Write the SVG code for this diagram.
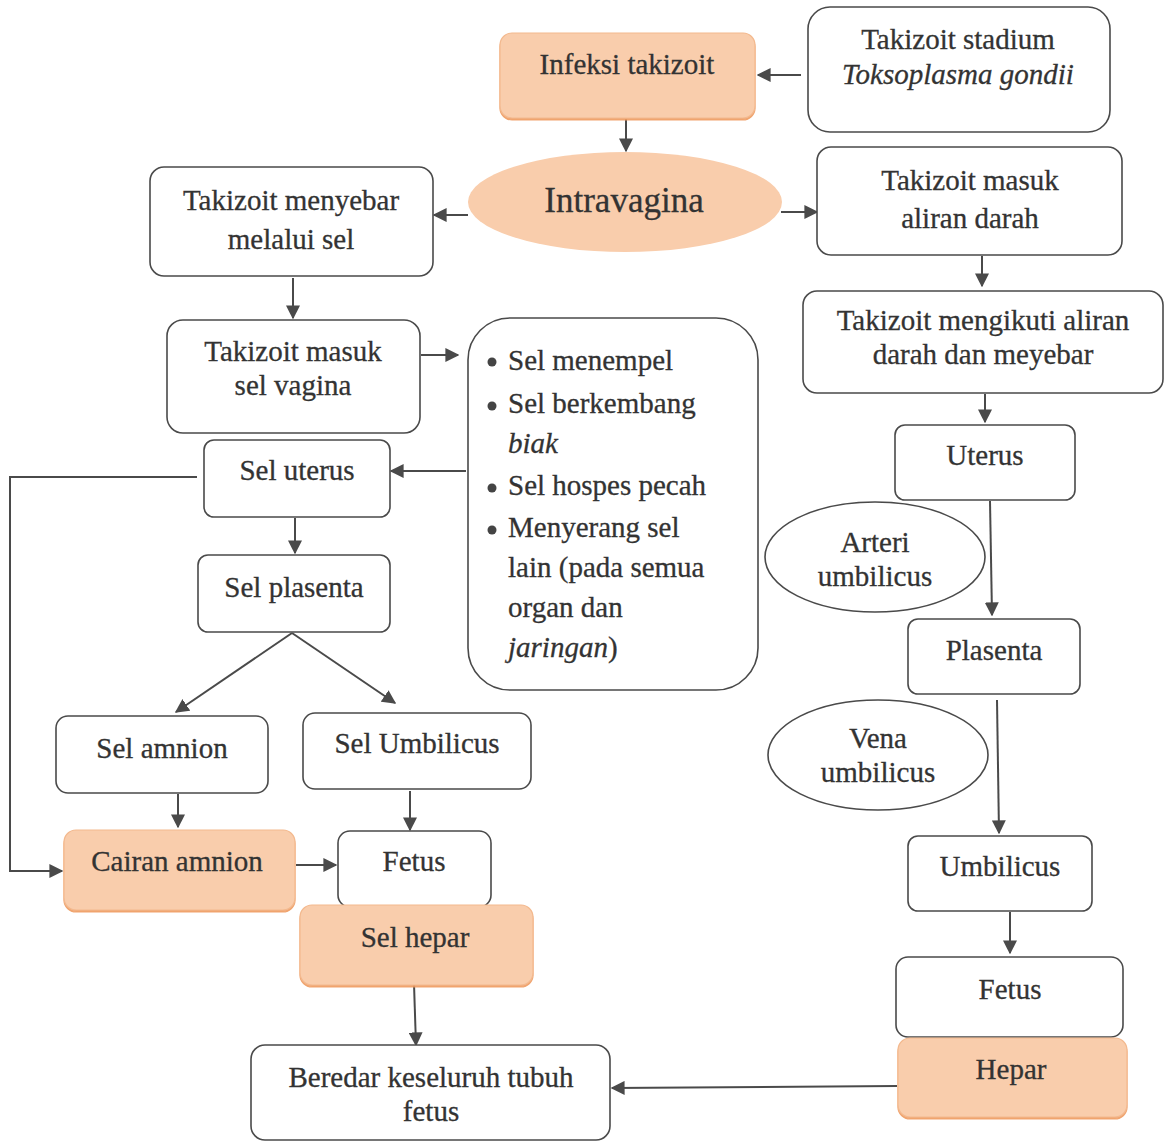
<svg xmlns="http://www.w3.org/2000/svg" width="1167" height="1144" viewBox="0 0 1167 1144">
<defs>
<style>
.box{fill:#fff;stroke:#4a4a4a;stroke-width:1.6}
.or{fill:#f9cdac;stroke:#f3b98e;stroke-width:1.2}
.t{font-family:"Liberation Serif","Times New Roman",serif;font-size:29px;fill:#333;stroke:#333;stroke-width:0.3;text-anchor:middle}
.tl{font-family:"Liberation Serif","Times New Roman",serif;font-size:29px;fill:#333;stroke:#333;stroke-width:0.3}
.c{fill:none;stroke:#4a4a4a;stroke-width:2}
</style>
<marker id="a" viewBox="0 0 10 10" refX="9" refY="5" markerWidth="14" markerHeight="14" markerUnits="userSpaceOnUse" orient="auto"><path d="M0,0 L10,5 L0,10 z" fill="#4a4a4a"/></marker>
<filter id="sh" x="-5%" y="-5%" width="110%" height="115%"><feDropShadow dx="0" dy="2" stdDeviation="0.5" flood-color="#ee9a5e" flood-opacity="0.9"/></filter>
</defs>
<rect width="1167" height="1144" fill="#fff"/>

<g id="connectors">
<path class="c" d="M801,75 L758,75" marker-end="url(#a)"/>
<path class="c" d="M626,119 L626,151" marker-end="url(#a)"/>
<path class="c" d="M468,215 L434,215" marker-end="url(#a)"/>
<path class="c" d="M781,212 L817,212" marker-end="url(#a)"/>
<path class="c" d="M982,256 L982,286" marker-end="url(#a)"/>
<path class="c" d="M293,278 L293,318" marker-end="url(#a)"/>
<path class="c" d="M421,355 L458,355" marker-end="url(#a)"/>
<path class="c" d="M466,471 L391,471" marker-end="url(#a)"/>
<path class="c" d="M295,518 L295,553" marker-end="url(#a)"/>
<path class="c" d="M292,633 L176,712" marker-end="url(#a)"/>
<path class="c" d="M292,633 L395,703" marker-end="url(#a)"/>
<path class="c" d="M178,794 L178,827" marker-end="url(#a)"/>
<path class="c" d="M410,791 L410,830" marker-end="url(#a)"/>
<path class="c" d="M197,477 L10,477 L10,871 L62,871" marker-end="url(#a)"/>
<path class="c" d="M296,865 L336,865" marker-end="url(#a)"/>
<path class="c" d="M414,984 L416,1045" marker-end="url(#a)"/>
<path class="c" d="M985,394 L985,422" marker-end="url(#a)"/>
<path class="c" d="M990,501 L992,615" marker-end="url(#a)"/>
<path class="c" d="M997,700 L999,833" marker-end="url(#a)"/>
<path class="c" d="M1010,912 L1010,953" marker-end="url(#a)"/>
<path class="c" d="M897,1086 L612,1088" marker-end="url(#a)"/>
</g>

<g id="infeksi">
<rect class="or" x="500" y="33" width="255" height="85" rx="12" filter="url(#sh)"/>
<text class="t" x="627" y="74">Infeksi takizoit</text>
</g>
<g id="stadium">
<rect class="box" x="808" y="7" width="302" height="125" rx="22"/>
<text class="t" x="958" y="49">Takizoit stadium</text>
<text class="t" x="958" y="84" font-style="italic">Toksoplasma gondii</text>
</g>
<g id="intravagina">
<ellipse cx="625" cy="202" rx="157" ry="50" fill="#f9cdac"/>
<text class="t" x="624" y="212" style="font-size:35px">Intravagina</text>
</g>
<g id="menyebar">
<rect class="box" x="150" y="167" width="283" height="109" rx="14"/>
<text class="t" x="291" y="210">Takizoit menyebar</text>
<text class="t" x="291" y="249">melalui sel</text>
</g>
<g id="aliran">
<rect class="box" x="817" y="147" width="305" height="108" rx="14"/>
<text class="t" x="970" y="190">Takizoit masuk</text>
<text class="t" x="970" y="228">aliran darah</text>
</g>
<g id="vagina">
<rect class="box" x="167" y="320" width="253" height="113" rx="16"/>
<text class="t" x="293" y="361">Takizoit masuk</text>
<text class="t" x="293" y="395">sel vagina</text>
</g>
<g id="mengikuti">
<rect class="box" x="803" y="291" width="360" height="102" rx="14"/>
<text class="t" x="983" y="330">Takizoit mengikuti aliran</text>
<text class="t" x="983" y="364">darah dan meyebar</text>
</g>
<g id="bullets">
<rect class="box" x="468" y="318" width="290" height="372" rx="42"/>
<circle cx="492" cy="362" r="4.5" fill="#444"/>
<circle cx="492" cy="406" r="4.5" fill="#444"/>
<circle cx="492" cy="488" r="4.5" fill="#444"/>
<circle cx="492" cy="530" r="4.5" fill="#444"/>
<text class="tl" x="508" y="370">Sel menempel</text>
<text class="tl" x="508" y="413">Sel berkembang</text>
<text class="tl" x="508" y="453" font-style="italic">biak</text>
<text class="tl" x="508" y="495">Sel hospes pecah</text>
<text class="tl" x="508" y="537">Menyerang sel</text>
<text class="tl" x="508" y="577">lain (pada semua</text>
<text class="tl" x="508" y="617">organ dan</text>
<text class="tl" x="508" y="657"><tspan font-style="italic">jaringan</tspan>)</text>
</g>
<g id="uterus">
<rect class="box" x="895" y="425" width="180" height="75" rx="10"/>
<text class="t" x="985" y="465">Uterus</text>
</g>
<g id="seluterus">
<rect class="box" x="204" y="440" width="186" height="77" rx="10"/>
<text class="t" x="297" y="480">Sel uterus</text>
</g>
<g id="selplasenta">
<rect class="box" x="198" y="555" width="192" height="77" rx="10"/>
<text class="t" x="294" y="597">Sel plasenta</text>
</g>
<g id="arteri">
<ellipse class="box" cx="875" cy="557" rx="110" ry="55"/>
<text class="t" x="875" y="552">Arteri</text>
<text class="t" x="875" y="586">umbilicus</text>
</g>
<g id="plasenta">
<rect class="box" x="908" y="619" width="172" height="75" rx="10"/>
<text class="t" x="994" y="660">Plasenta</text>
</g>
<g id="vena">
<ellipse class="box" cx="878" cy="755" rx="110" ry="55"/>
<text class="t" x="878" y="748">Vena</text>
<text class="t" x="878" y="782">umbilicus</text>
</g>
<g id="selamnion">
<rect class="box" x="56" y="716" width="212" height="77" rx="12"/>
<text class="t" x="162" y="758">Sel amnion</text>
</g>
<g id="selumbilicus">
<rect class="box" x="303" y="713" width="228" height="76" rx="12"/>
<text class="t" x="417" y="753">Sel Umbilicus</text>
</g>
<g id="cairan">
<rect class="or" x="64" y="830" width="231" height="80" rx="12" filter="url(#sh)"/>
<text class="t" x="177" y="871">Cairan amnion</text>
</g>
<g id="fetus1">
<rect class="box" x="338" y="831" width="153" height="76" rx="12"/>
<text class="t" x="414" y="871">Fetus</text>
</g>
<g id="selhepar">
<rect class="or" x="300" y="905" width="233" height="80" rx="12" filter="url(#sh)"/>
<text class="t" x="415" y="947">Sel hepar</text>
</g>
<g id="umbilicus">
<rect class="box" x="908" y="836" width="184" height="75" rx="10"/>
<text class="t" x="1000" y="876">Umbilicus</text>
</g>
<g id="fetus2">
<rect class="box" x="896" y="957" width="227" height="80" rx="12"/>
<text class="t" x="1010" y="999">Fetus</text>
</g>
<g id="hepar">
<rect class="or" x="898" y="1038" width="229" height="79" rx="12" filter="url(#sh)"/>
<text class="t" x="1011" y="1079">Hepar</text>
</g>
<g id="beredar">
<rect class="box" x="251" y="1045" width="359" height="95" rx="14"/>
<text class="t" x="431" y="1087">Beredar keseluruh tubuh</text>
<text class="t" x="431" y="1121">fetus</text>
</g>
</svg>
